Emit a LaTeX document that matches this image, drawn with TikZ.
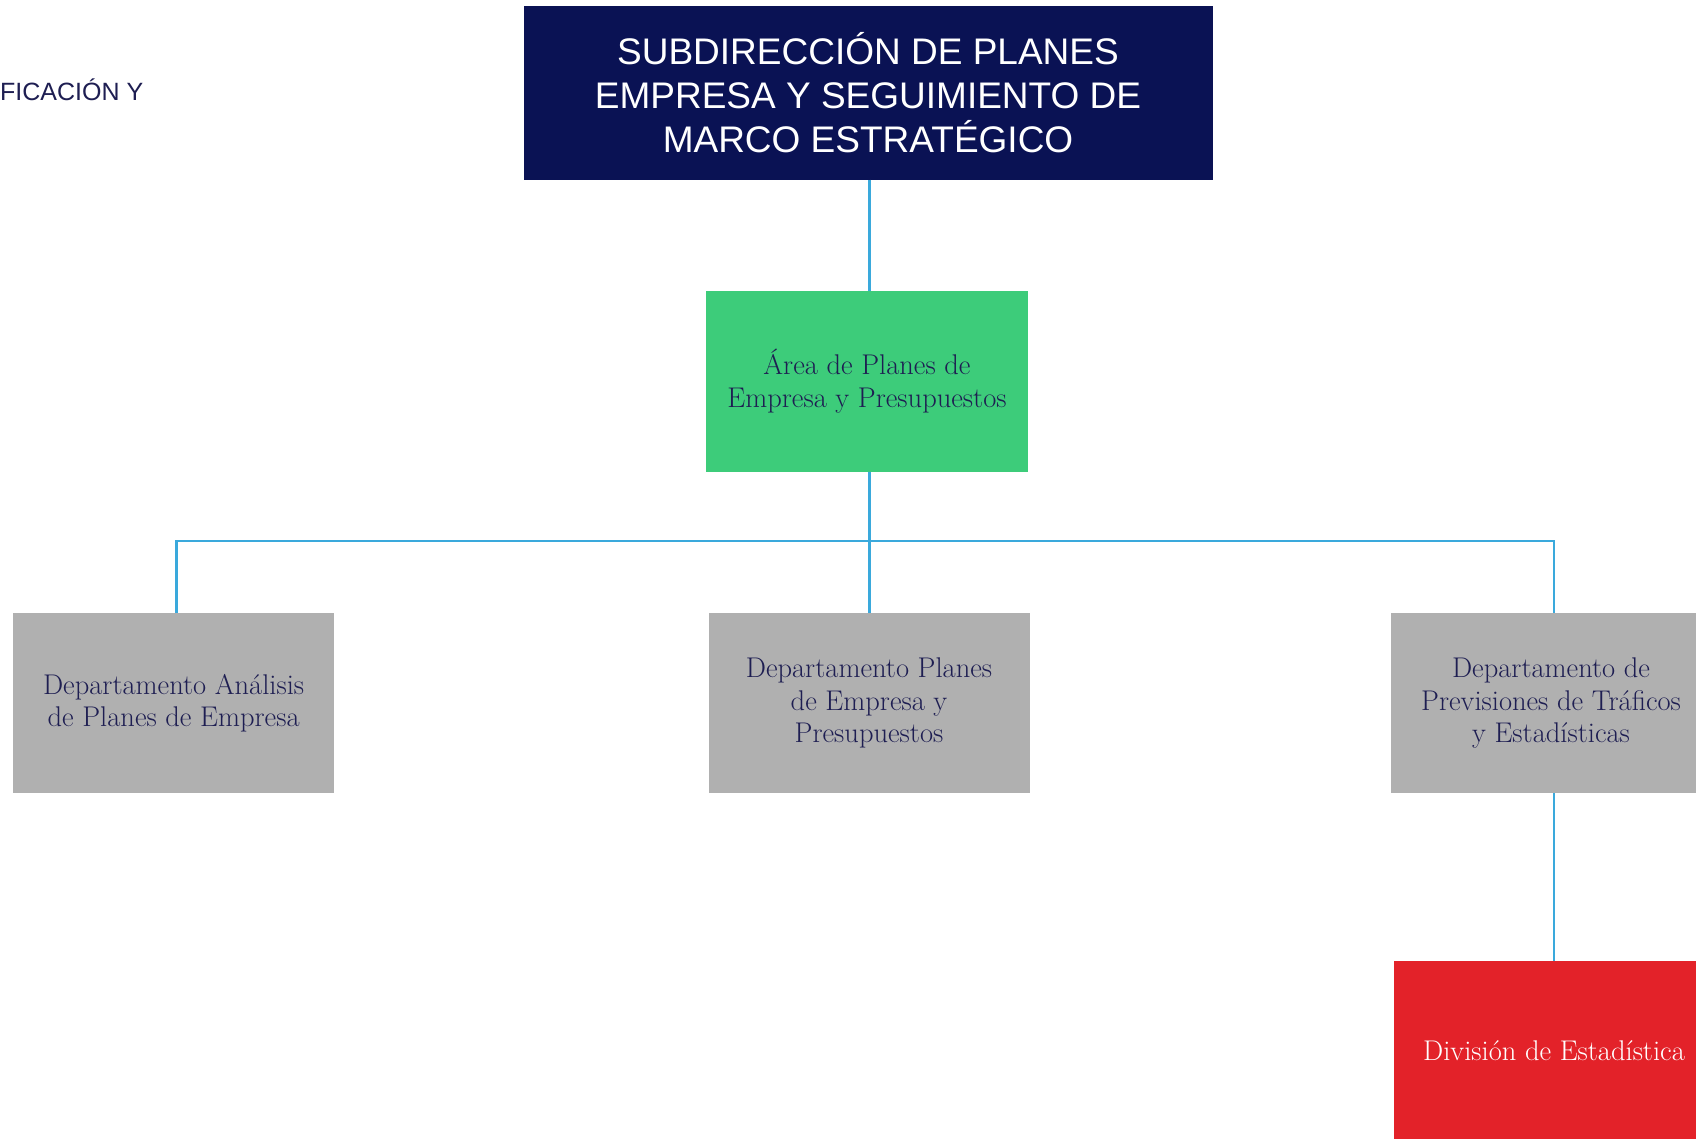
\documentclass[tikz,border=0pt]{standalone}
\usepackage{fontspec}
\setsansfont{Liberation Sans}
\definecolor{navy}{HTML}{0A1254}
\definecolor{grn}{HTML}{3DCC7A}
\definecolor{gry}{HTML}{B0B0B0}
\definecolor{rd}{HTML}{E32229}
\definecolor{lnk}{HTML}{3AA9DC}
\definecolor{txt}{HTML}{1E1E52}
\begin{document}
\begin{tikzpicture}[x=1pt,y=-1pt,
  box/.style={minimum width=321pt,minimum height=180pt,inner sep=0pt,align=center,
     font=\fontsize{28.5}{32.4}\selectfont,text=txt},
  conn/.style={draw=lnk,line width=2.4pt}]
\useasboundingbox (0,0) rectangle (1696,1138);
\clip (0,0) rectangle (1696,1138);
\fill[white] (0,0) rectangle (1696,1138);
\node[anchor=base west,font=\sffamily\fontsize{25}{30}\selectfont,text=txt,inner sep=0pt] (side) at (0,100) {FICACIÓN Y};
\node[fill=navy,minimum width=689pt,minimum height=174pt,inner sep=0pt,align=center,
  text=white,font=\sffamily\fontsize{37}{44.3}\selectfont] (top) at (868,92.5)
  {SUBDIRECCIÓN DE PLANES\\EMPRESA Y SEGUIMIENTO DE\\MARCO ESTRATÉGICO};
\node[box,fill=grn,minimum width=322pt,minimum height=181pt] (area) at (867,381.3)
  {Área de Planes de\\Empresa y Presupuestos};
\node[box,fill=gry] (left) at (173.6,703) {Departamento Análisis\\de Planes de Empresa};
\node[box,fill=gry] (mid) at (869,703) {Departamento Planes\\de Empresa y\\Presupuestos};
\node[box,fill=gry] (right) at (1551,703) {Departamento de\\Previsiones de Tráficos\\y Estadísticas};
\node[box,fill=rd,text=white] (red) at (1554,1051) {División de Estadística};
\coordinate (bar) at (869.6,540.8);
\draw[conn] (top.south -| bar) -- (area.north -| bar);
\draw[conn] (area.south -| bar) -- (mid.north -| bar);
\draw[conn] (bar) -| ([xshift=2.7pt]left.north);
\draw[conn] (bar) -| ([xshift=3pt]right.north);
\draw[conn] (red.north |- right.south) -- (red.north);
\end{tikzpicture}
\end{document}
